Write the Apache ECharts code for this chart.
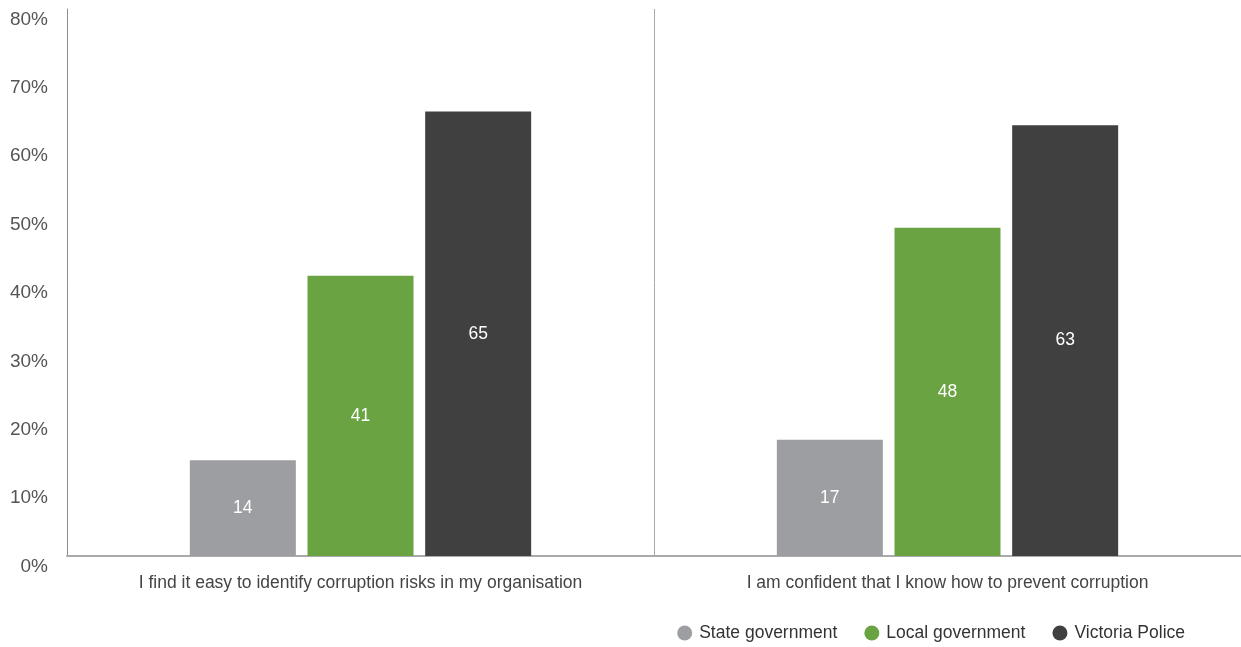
<!DOCTYPE html>
<html>
<head>
<meta charset="utf-8">
<style>
  html, body { margin: 0; padding: 0; background: #ffffff; }
  #chart { width: 1241px; height: 647px; }
</style>
<script src="https://cdn.jsdelivr.net/npm/echarts@6/dist/echarts.min.js"></script>
</head>
<body>
<div id="chart"></div>
<script>
// Survey statements and share of respondents agreeing (%)
const categories = [
  'I find it easy to identify corruption risks in my organisation',
  'I am confident that I know how to prevent corruption'
];
const stateGovernment = [14, 17];
const localGovernment = [41, 48];
const victoriaPolice = [65, 63];
const yTicks = [0, 10, 20, 30, 40, 50, 60, 70, 80];

const FONT = '"Liberation Sans", Arial, Helvetica, sans-serif';
const COLORS = { state: '#9d9ea2', local: '#6aa341', police: '#404041' };

const chart = echarts.init(document.getElementById('chart'), null, { renderer: 'canvas' });

function barSeries(name, data, color) {
  return {
    name: name,
    type: 'bar',
    data: data,
    barWidth: 106,
    barGap: '11%',
    itemStyle: { color: color },
    label: {
      show: true,
      position: 'inside',
      color: '#ffffff',
      fontFamily: FONT,
      fontSize: 17.5
    },
    emphasis: { disabled: true }
  };
}

chart.setOption({
  animation: false,
  textStyle: { fontFamily: FONT },
  grid: { left: 67, right: 0, top: 9, bottom: 91, containLabel: false },
  legend: {
    right: 51,
    top: 619,
    itemWidth: 15,
    itemHeight: 15,
    itemGap: 27,
    icon: 'circle',
    textStyle: { color: '#333333', fontSize: 17.5, fontFamily: FONT, padding: [0, 0, 0, 2] },
    data: ['State government', 'Local government', 'Victoria Police']
  },
  xAxis: {
    type: 'category',
    data: categories,
    axisLine: { show: true, lineStyle: { color: '#aaaaad', width: 2 } },
    axisTick: { show: false },
    splitLine: { show: true, lineStyle: { color: '#aaaaad', width: 1 } },
    axisLabel: {
      color: '#444444',
      fontSize: 17.5,
      fontFamily: FONT,
      margin: 18
    }
  },
  yAxis: {
    type: 'value',
    min: yTicks[0],
    max: yTicks[yTicks.length - 1],
    interval: 10,
    axisLine: { show: true, lineStyle: { color: '#8e8e8e', width: 1 } },
    axisTick: { show: false },
    splitLine: { show: false },
    axisLabel: {
      color: '#555555',
      fontSize: 19,
      fontFamily: FONT,
      margin: 19,
      verticalAlign: 'top',
      padding: [1, 0, 0, 0],
      formatter: function (v) { return v + '%'; }
    }
  },
  series: [
    barSeries('State government', stateGovernment, COLORS.state),
    barSeries('Local government', localGovernment, COLORS.local),
    barSeries('Victoria Police', victoriaPolice, COLORS.police)
  ]
});
</script>
</body>
</html>
